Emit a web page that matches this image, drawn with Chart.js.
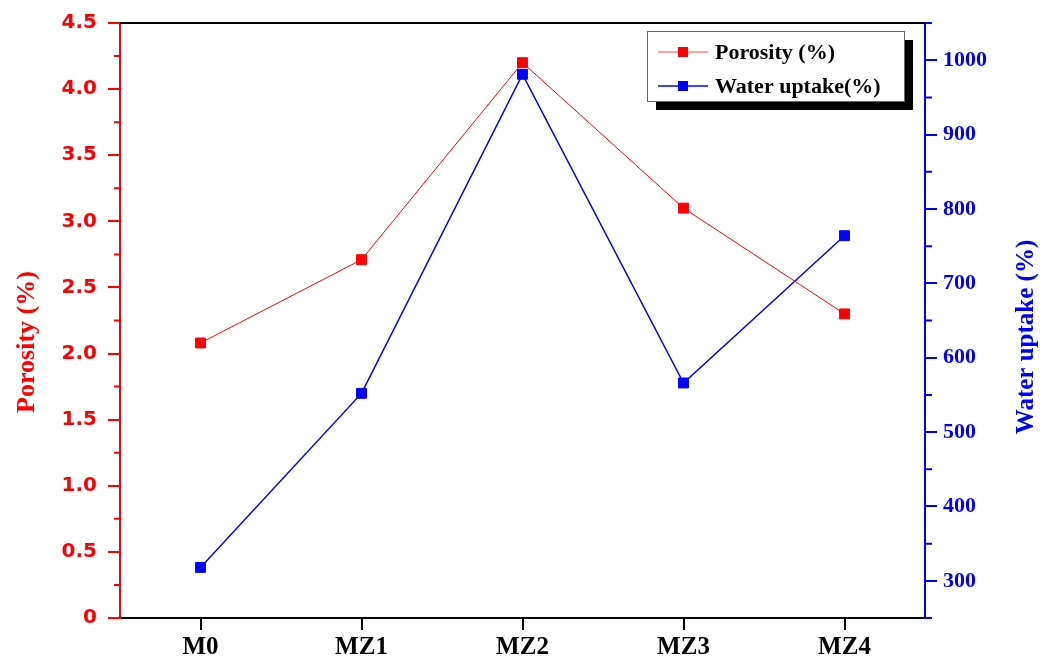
<!DOCTYPE html>
<html>
<head>
<meta charset="utf-8">
<script src="https://cdn.jsdelivr.net/npm/chart.js@4.4.0/dist/chart.umd.min.js"></script>
<style>
  html, body { margin: 0; padding: 0; background: #fff; }
  #chart { display: block; }
</style>
</head>
<body>
<canvas id="chart" width="1042" height="657"></canvas>
<script>
const samples = ["M0", "MZ1", "MZ2", "MZ3", "MZ4"];
const porosity = [2.08, 2.71, 4.2, 3.1, 2.3];
const waterUptake = [318, 552, 981, 566, 764];
const porosityRange = [0, 4.5];
const waterRange = [250, 1050];

const serif = "'Liberation Serif', 'Times New Roman', serif";

// minor ticks, top frame line, axis titles, legend box
const extras = {
  id: "extras",
  afterDraw(chart) {
    const ctx = chart.ctx;
    const area = chart.chartArea;
    const y = chart.scales.y, y2 = chart.scales.y2;
    ctx.save();

    // top frame
    ctx.strokeStyle = "#000";
    ctx.lineWidth = 2;
    ctx.beginPath();
    ctx.moveTo(area.left, area.top);
    ctx.lineTo(area.right, area.top);
    ctx.stroke();

    // minor ticks
    ctx.strokeStyle = "red";
    ctx.beginPath();
    y.ticks.forEach(t => {
      if (Math.abs(t.value * 2 - Math.round(t.value * 2)) > 1e-6) {
        const py = y.getPixelForValue(t.value);
        ctx.moveTo(area.left - 6, py);
        ctx.lineTo(area.left, py);
      }
    });
    ctx.stroke();
    ctx.strokeStyle = "blue";
    ctx.beginPath();
    y2.ticks.forEach(t => {
      if (t.value % 100 !== 0) {
        const py = y2.getPixelForValue(t.value);
        ctx.moveTo(area.right, py);
        ctx.lineTo(area.right + 7, py);
      }
    });
    ctx.stroke();

    // axis titles
    ctx.textAlign = "center";
    ctx.textBaseline = "middle";
    ctx.save();
    ctx.font = "bold 26px " + serif;
    ctx.translate(27, 342);
    ctx.rotate(-Math.PI / 2);
    ctx.fillStyle = "red";
    ctx.fillText("Porosity (%)", 0, 0);
    ctx.restore();
    ctx.save();
    ctx.font = "bold 25px " + serif;
    ctx.translate(1027, 337);
    ctx.rotate(-Math.PI / 2);
    ctx.fillStyle = "blue";
    ctx.fillText("Water uptake (%)", 0, 0);
    ctx.restore();

    // legend
    const bx = 647, by = 31, bw = 257, bh = 70;
    ctx.fillStyle = "#000";
    ctx.fillRect(bx + 9, by + 9, bw, bh);
    ctx.fillStyle = "#fff";
    ctx.fillRect(bx, by, bw, bh);
    ctx.strokeStyle = "#666";
    ctx.lineWidth = 1;
    ctx.strokeRect(bx + 0.5, by + 0.5, bw, bh);
    const rows = [
      { label: chart.data.datasets[0].label, line: "#ff8080", fill: "red", cy: 52 },
      { label: chart.data.datasets[1].label, line: "blue", fill: "blue", cy: 86 }
    ];
    rows.forEach(r => {
      ctx.strokeStyle = r.line;
      ctx.lineWidth = 1.5;
      ctx.beginPath();
      ctx.moveTo(658, r.cy);
      ctx.lineTo(708, r.cy);
      ctx.stroke();
      ctx.fillStyle = r.fill;
      ctx.fillRect(678, r.cy - 5, 10, 10);
      ctx.fillStyle = "#000";
      ctx.font = "bold 22px " + serif;
      ctx.textAlign = "left";
      ctx.textBaseline = "middle";
      ctx.fillText(r.label, 715, r.cy + 1);
    });
    ctx.restore();
  }
};

new Chart(document.getElementById("chart"), {
  type: "line",
  data: {
    labels: samples,
    datasets: [
      {
        label: "Porosity (%)",
        data: porosity,
        yAxisID: "y",
        borderColor: "red",
        borderWidth: 1,
        backgroundColor: "red",
        pointStyle: "rect",
        pointRadius: 7,
        pointBorderWidth: 1,
        pointBorderColor: "red",
        clip: false
      },
      {
        label: "Water uptake(%)",
        data: waterUptake,
        yAxisID: "y2",
        borderColor: "blue",
        borderWidth: 1.5,
        backgroundColor: "blue",
        pointStyle: "rect",
        pointRadius: 7,
        pointBorderWidth: 1,
        pointBorderColor: "blue",
        clip: false
      }
    ]
  },
  options: {
    responsive: false,
    animation: false,
    devicePixelRatio: 1,
    layout: { padding: { top: 19, left: 0, right: 0, bottom: 0 } },
    plugins: { legend: { display: false }, tooltip: { enabled: false } },
    scales: {
      x: {
        type: "category",
        offset: true,
        afterFit: s => { s.height = 39; },
        border: { color: "#000", width: 2 },
        grid: { offset: false, drawOnChartArea: false, tickLength: 12, tickColor: "#000", lineWidth: 2 },
        ticks: { color: "#000", padding: 3, font: { family: serif, size: 25, weight: "bold" } }
      },
      y: {
        position: "left",
        min: porosityRange[0],
        max: porosityRange[1],
        afterFit: s => { s.width = 120; },
        border: { color: "red", width: 2 },
        grid: {
          drawOnChartArea: false,
          tickLength: 12,
          lineWidth: 2,
          tickColor: c => (Math.abs(c.tick.value * 2 - Math.round(c.tick.value * 2)) < 1e-6 ? "red" : "rgba(0,0,0,0)")
        },
        ticks: {
          stepSize: 0.25,
          padding: 11,
          color: "red",
          font: { family: "'DejaVu Sans', sans-serif", size: 20, weight: "bold" },
          callback: v => {
            if (Math.abs(v * 2 - Math.round(v * 2)) > 1e-6) return "";
            return v === 0 ? "0" : v.toFixed(1);
          }
        }
      },
      y2: {
        position: "right",
        min: waterRange[0],
        max: waterRange[1],
        afterFit: s => { s.width = 117; },
        border: { color: "blue", width: 2 },
        grid: {
          drawOnChartArea: false,
          tickLength: 12,
          lineWidth: 2,
          tickColor: c => (c.tick.value % 100 === 0 ? "blue" : "rgba(0,0,0,0)")
        },
        ticks: {
          stepSize: 50,
          padding: 6,
          color: "blue",
          font: { family: serif, size: 22, weight: "bold" },
          callback: v => (v % 100 === 0 ? String(v) : "")
        }
      }
    }
  },
  plugins: [extras]
});
</script>
</body>
</html>
